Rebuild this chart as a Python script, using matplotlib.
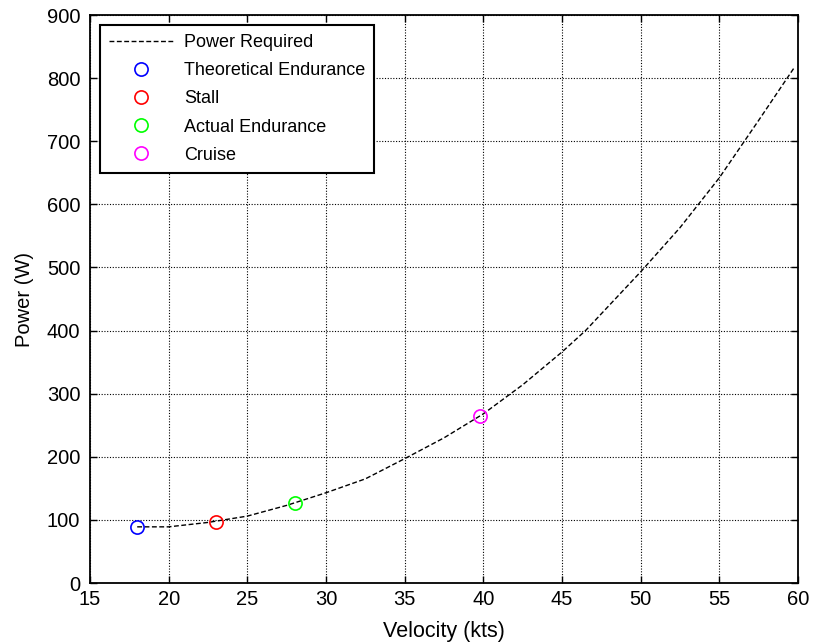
import matplotlib
matplotlib.use("Agg")
import matplotlib.pyplot as plt

plt.rcParams['font.family'] = ['Liberation Sans', 'DejaVu Sans']

# Power required curve (velocity in kts, power in W)
velocity = [18, 20, 22.5, 25, 27.5, 30, 32.5, 35, 37.5, 40, 42.5, 45, 46.5,
            50, 52.5, 55, 57.5, 59.8]
power = [89, 89, 96, 106, 123, 143, 165, 197, 230, 268, 314, 366, 400,
         493, 563, 642, 733, 818]

# Operating points
point_labels = ['Theoretical Endurance', 'Stall', 'Actual Endurance', 'Cruise']
point_velocity = [18, 23, 28, 39.8]
point_power = [89, 97, 126, 265]
point_colors = ['#0000ff', '#ff0000', '#00ff00', '#ff00ff']

xticks = [15, 20, 25, 30, 35, 40, 45, 50, 55, 60]
yticks = [0, 100, 200, 300, 400, 500, 600, 700, 800, 900]

fig = plt.figure(figsize=(8.13, 6.44), dpi=100)
ax = fig.add_axes([0.1107, 0.0947, 0.8708, 0.8820])

ax.plot(velocity, power, color='black', linestyle=(0, (3.5, 1.8)),
        linewidth=1.0, label='Power Required')
for lab, vx, py, c in zip(point_labels, point_velocity, point_power, point_colors):
    ax.plot([vx], [py], linestyle='none', marker='o', markersize=9.5,
            markerfacecolor='none', markeredgecolor=c, markeredgewidth=1.2,
            label=lab)

ax.set_xlim(15, 60)
ax.set_ylim(0, 900)
ax.set_xticks(xticks)
ax.set_yticks(yticks)
ax.tick_params(direction='in', length=5, width=1, labelsize=14.5,
               top=True, right=True)
ax.tick_params(axis='y', pad=7)
ax.tick_params(axis='x', pad=5)
ax.grid(True, color='black', linestyle=(0, (1, 1.5)), linewidth=0.8)
for s in ax.spines.values():
    s.set_linewidth(1.3)

ax.set_xlabel('Velocity (kts)', fontsize=15.5, labelpad=9)
ax.set_ylabel('Power (W)', fontsize=14.5, labelpad=9)

leg = ax.legend(loc='upper left', fontsize=13, numpoints=1, fancybox=False,
                framealpha=1, edgecolor='black', handlelength=3.6,
                handletextpad=0.55, labelspacing=0.62, borderpad=0.5,
                borderaxespad=0.55)
leg.get_frame().set_linewidth(1.5)

fig.savefig('out.png', dpi=100)
